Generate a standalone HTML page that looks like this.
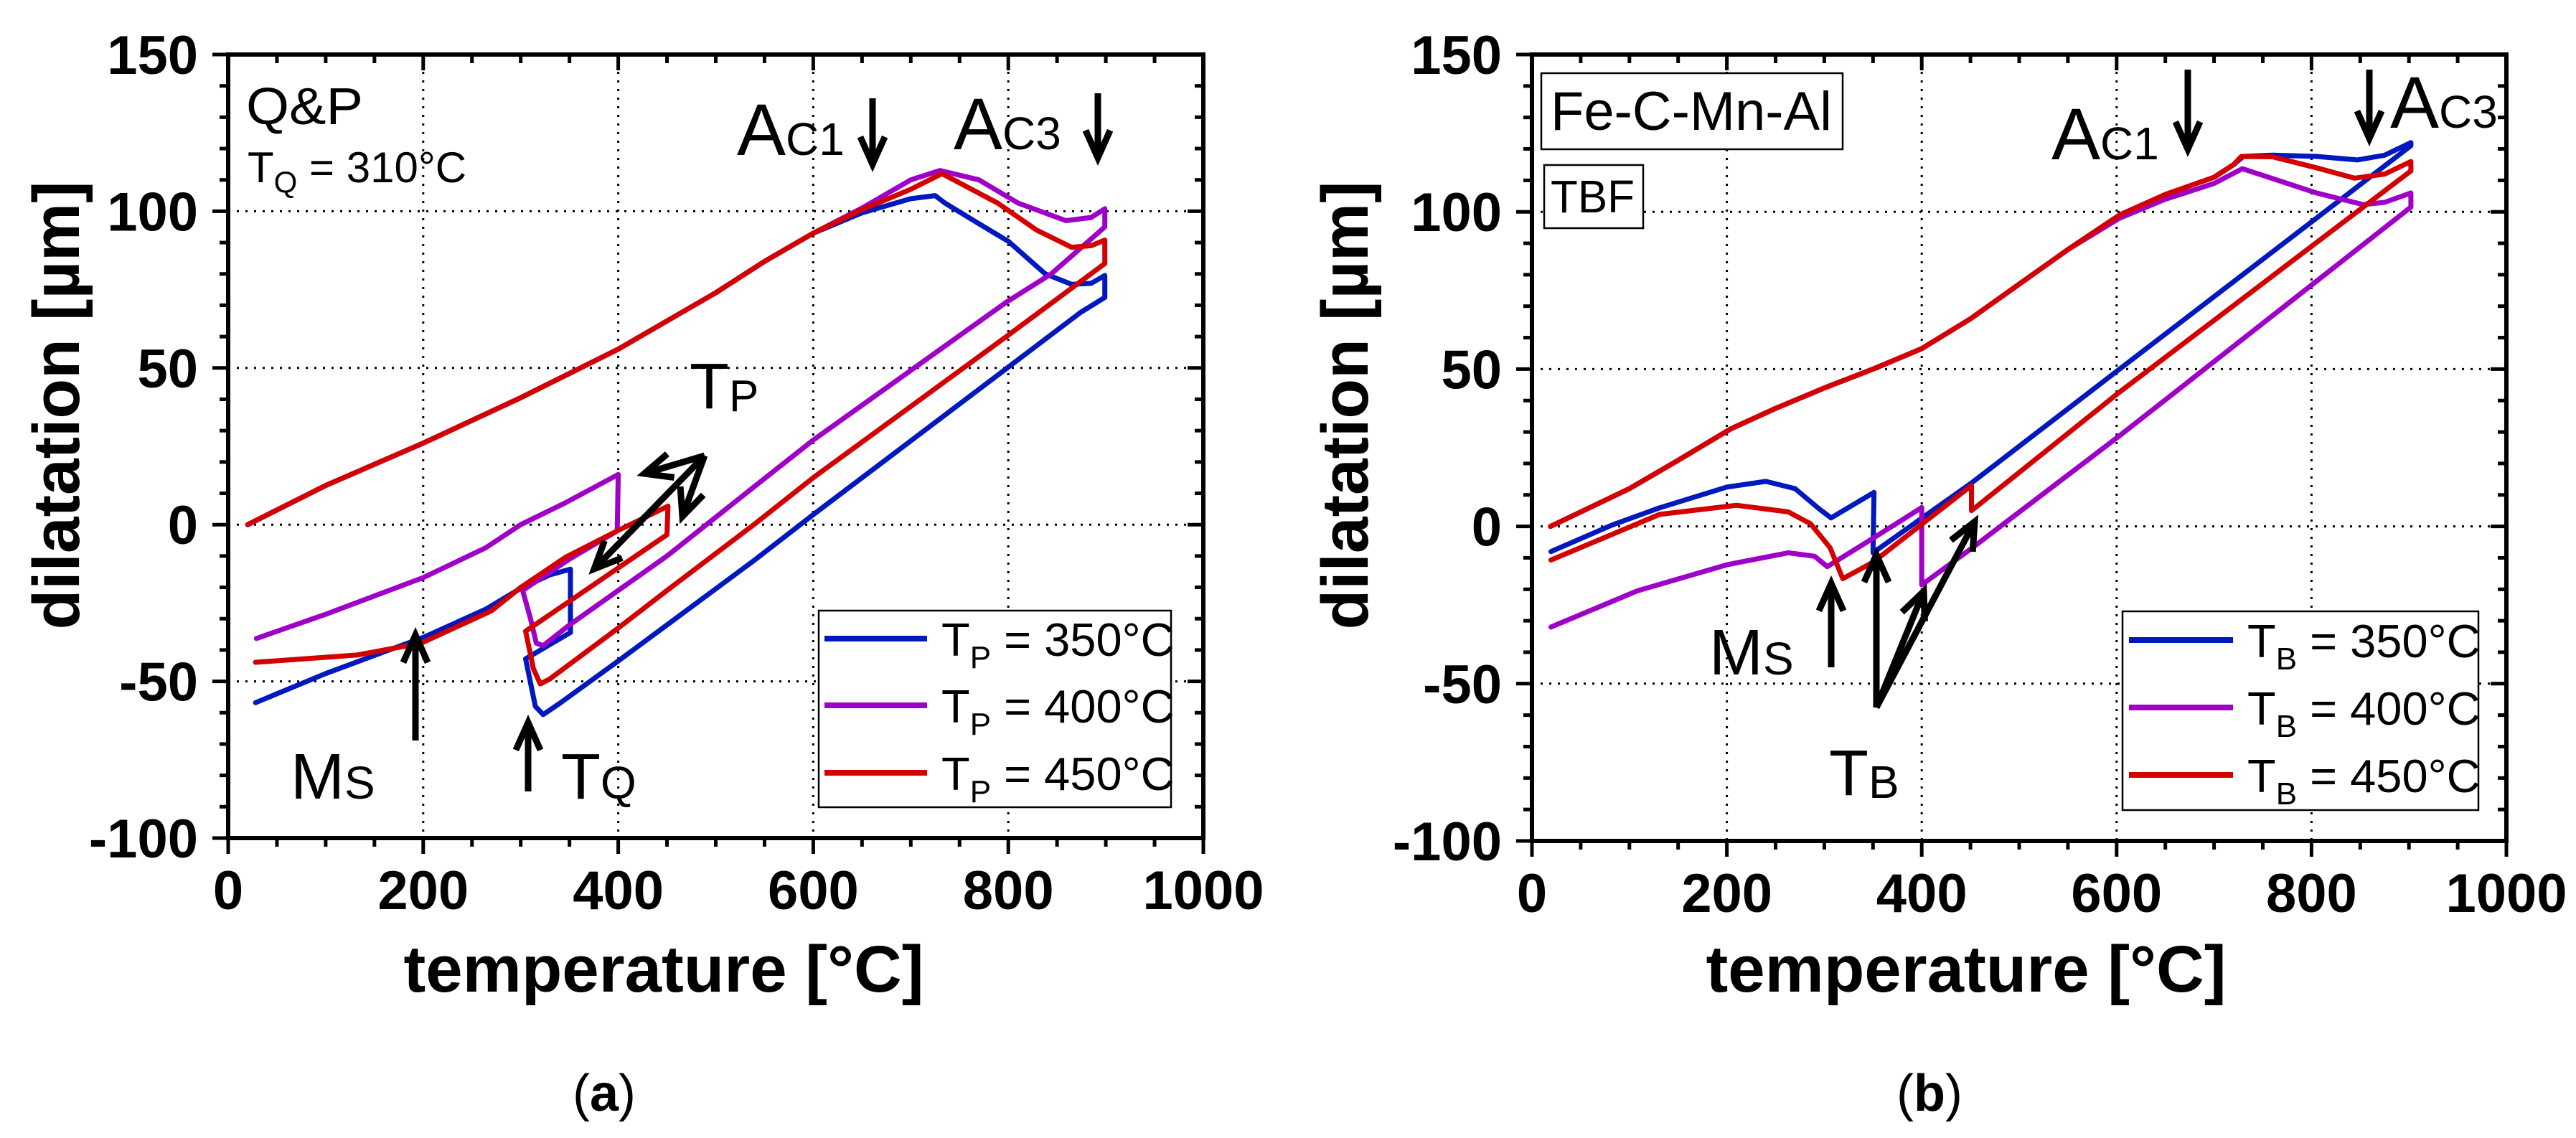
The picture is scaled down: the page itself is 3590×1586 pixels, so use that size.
<!DOCTYPE html>
<html><head><meta charset="utf-8"><title>Dilatation curves</title>
<style>
html,body{margin:0;padding:0;background:#fff;}
svg{display:block;}
text{font-family:"Liberation Sans",Arial,sans-serif;}
</style></head>
<body>
<svg id="fig" xmlns="http://www.w3.org/2000/svg" width="3590" height="1586" viewBox="0 0 3590 1586">
<rect width="3590" height="1586" fill="#fff"/>
</svg>
<script>
// ---------- shared axis data ----------
const xTicks = [0, 200, 400, 600, 800, 1000];
const yTicks = [150, 100, 50, 0, -50, -100];
const xMinorStep = 50;
const yMinorStep = 10;

// ---------- panel (a) data : Q&P ----------
const aBlueT = [20,100,200,300,400,500,550,600,650,700,725,735,770,800,838,865,885,899,899,874,798,600,539,450,400,340,323,315,305,351,351,330,300,264,200,165,100,28];
const aBlueV = [0,12.5,26,40.5,56,74,84,93,99.5,104,105,102.6,96,90.4,80,76.7,77,79.5,72.5,67.7,49.8,3.2,-11.5,-32,-43.5,-57,-60.6,-58,-42.8,-34.4,-14.2,-16,-20.3,-27,-36,-40,-47.5,-56.8];
const aPurpleT = [20,100,200,300,400,500,550,600,650,700,730,770,810,859,885,899,899,844,798,600,539,450,400,350,323,316,310,302,350,399,400,346,300,264,200,99,29];
const aPurpleV = [0,12.5,26,40.5,56,74,84,93,101,110,113,110,102.6,97,98,100.8,95,80,71,27,12,-10,-21,-32,-38.6,-37.8,-30,-21,-11,-2,16,7,0,-7.4,-16.9,-28.7,-36.3];
const aRedT = [20,100,200,300,400,500,550,600,650,700,732,789,829,865,885,899,899,798,600,539,514,450,400,330,320,313,305,450,451,399,346,300,270,198,132,28];
const aRedV = [0,12.5,26,40.5,56,74,84,93,100.5,107,112,102.6,94,88.5,89,90.8,83.3,60,15,0,-5.9,-21,-33,-49.2,-50.8,-46,-34,-3.2,5.9,-2,-10.4,-20,-27.5,-37.8,-41.6,-43.9];

// ---------- panel (b) data : TBF ----------
const bBlueT = [19,100,150,204,250,300,350,400,450,500,550,603,650,700,720,730,760,805,847,875,902,902,603,451,350,351,307,295,270,240,200,130,82,19.5];
const bBlueV = [0,12,21,31,37.5,44,50,56.5,66,77,88,99,105.5,111,115,117.6,118,117.6,116.5,118,122,121,50,13.8,-8.4,10.8,2.7,5.5,12,14.3,12.5,5.8,0.4,-8];
const bPurpleT = [19,100,150,204,250,300,350,400,450,500,550,603,650,700,729,805,853,875,902,902,603,451,400,400,349,303,290,263,200,108,19.5];
const bPurpleV = [0,12,21,31,37.5,44,50,56.5,66,77,88,98,104,109,113.7,106,102.3,103,106,101.5,28.8,-7,-18.6,6,-4,-12.8,-9.5,-8.4,-12.2,-20.5,-32];
const bRedT = [19,100,150,204,250,300,350,400,450,500,550,603,650,700,720,728,760,805,844,875,902,902,603,451,451,350,319,306,286,263,210,131,19.5];
const bRedV = [0,12,21,31,37.5,44,50,56.5,66,77,88,99,105.5,111,115,117.6,117.5,114,110.7,112,116,113,42.7,5,13,-11.4,-16.6,-6.8,0.8,4.6,6.7,3.8,-10.7];

const legendA = ["350\u00b0C", "400\u00b0C", "450\u00b0C"];
const legendB = ["350\u00b0C", "400\u00b0C", "450\u00b0C"];
const colors = ["#0019bf", "#9f00c8", "#d40000"];

const NS = "http://www.w3.org/2000/svg";
const svg = document.getElementById("fig");
function mk(tag, attrs, parent) {
  const e = document.createElementNS(NS, tag);
  for (const k in attrs) e.setAttribute(k, attrs[k]);
  (parent || svg).appendChild(e);
  return e;
}

function panel(P) {
  const g = mk("g", {});
  
  
  const X = t => P.x0 + (t - 0) * (P.x1 - P.x0) / 1000;
  const Y = v => P.y0 + (150 - v) * (P.y1 - P.y0) / 250;

  for (const t of xTicks) {
    if (t === 0 || t === 1000) continue;
    const l = mk("line", {x1: X(t), x2: X(t), y1: P.y0, y2: P.y1, stroke: "#000", "stroke-width": 3, "stroke-dasharray": "3 9"}, g);
    
    
  }
  for (const v of yTicks) {
    if (v === 150 || v === -100) continue;
    const l = mk("line", {x1: P.x0, x2: P.x1, y1: Y(v), y2: Y(v), stroke: "#000", "stroke-width": 3, "stroke-dasharray": "3 9"}, g);
    
    
  }

  const series = [[P.blueT, P.blueV], [P.purpleT, P.purpleV], [P.redT, P.redV]];
  const sNames = ['series-350', 'series-400', 'series-450'];
  series.forEach((s, i) => {
    let d = "";
    for (let k = 0; k < s[0].length; k++) d += (k ? "L" : "M") + X(s[0][k]).toFixed(1) + "," + Y(s[1][k]).toFixed(1);
    const p = mk("path", {d: d, fill: "none", stroke: colors[i], "stroke-width": 7, "stroke-linejoin": "round", "stroke-linecap": "round"}, g);
    
    
  });
  const fr = mk("rect", {x: P.x0, y: P.y0, width: P.x1 - P.x0, height: P.y1 - P.y0, fill: "none", stroke: "#000", "stroke-width": 6}, g);
  
  

  for (let t = 0; t <= 1000; t += xMinorStep) {
    const major = xTicks.includes(t);
    const len = major ? 22 : 12;
    const a = mk("line", {x1: X(t), x2: X(t), y1: P.y1, y2: P.y1 + len, stroke: "#000", "stroke-width": 5}, g);
    
    
    const b = mk("line", {x1: X(t), x2: X(t), y1: P.y0, y2: P.y0 + len, stroke: "#000", "stroke-width": 5}, g);
    
    
  }
  for (let v = -100; v <= 150; v += yMinorStep) {
    const major = yTicks.includes(v);
    const len = major ? 22 : 12;
    const a = mk("line", {x1: P.x0 - len, x2: P.x0, y1: Y(v), y2: Y(v), stroke: "#000", "stroke-width": 5}, g);
    
    
    const b = mk("line", {x1: P.x1 - len, x2: P.x1, y1: Y(v), y2: Y(v), stroke: "#000", "stroke-width": 5}, g);
    
    
  }
  for (const t of xTicks) {
    const e = mk("text", {x: X(t), y: P.y1 + 99, "text-anchor": "middle", "font-size": 76, "font-weight": "bold"}, g);
    e.textContent = String(t);
    
    
  }
  for (const v of yTicks) {
    const e = mk("text", {x: P.x0 - 42, y: Y(v) + 27, "text-anchor": "end", "font-size": 76, "font-weight": "bold"}, g);
    e.textContent = String(v);
    
    
  }
  const xt = mk("text", {x: P.xtx, y: 1382, "text-anchor": "middle", "font-size": 92, "font-weight": "bold", textLength: 725, lengthAdjust: "spacingAndGlyphs"}, g);
  xt.textContent = "temperature [\u00b0C]";
  
  
  const yt = mk("text", {x: 0, y: 0, transform: "translate(" + P.ytx + ",565) rotate(-90)", "text-anchor": "middle", "font-size": 92, "font-weight": "bold", textLength: 625, lengthAdjust: "spacingAndGlyphs"}, g);
  yt.textContent = "dilatation [\u00b5m]";
  
  
  const pl = mk("text", {x: P.labelX, y: 1548, "text-anchor": "middle", "font-size": 72, "font-family": "Liberation Serif, serif"}, g);
  pl.innerHTML = '(<tspan font-weight="bold">' + P.label + '</tspan>)';
  
  

  const L = P.legend;
  const box = mk("rect", {x: L.x, y: L.y, width: L.w, height: L.h, fill: "#fff", stroke: "#000", "stroke-width": 2.5}, g);
  
  
  P.legendLabels.forEach((lab, i) => {
    const cy = L.rows[i];
    const ln = mk("line", {x1: L.lx1, x2: L.lx2, y1: cy, y2: cy, stroke: colors[i], "stroke-width": 8}, g);
    
    
    const tx = mk("text", {x: L.tx, y: cy + 24, "font-size": 65}, g);
    tx.innerHTML = 'T<tspan font-size="44" dy="17">' + P.sub + '</tspan><tspan dy="-17"> = ' + lab + '</tspan>';
    
    
  });
  return {g, X, Y};
}

function arrow(parent, x1, y1, x2, y2, name) {
  const ang = Math.atan2(y2 - y1, x2 - x1);
  const hl = 42, hw = 0.42;
  const a1 = ang + Math.PI - hw, a2 = ang + Math.PI + hw;
  const d = "M" + x1 + "," + y1 + "L" + x2 + "," + y2 +
    "M" + (x2 + hl * Math.cos(a1)).toFixed(1) + "," + (y2 + hl * Math.sin(a1)).toFixed(1) + "L" + x2 + "," + y2 +
    "L" + (x2 + hl * Math.cos(a2)).toFixed(1) + "," + (y2 + hl * Math.sin(a2)).toFixed(1);
  const p = mk("path", {d: d, fill: "none", stroke: "#000", "stroke-width": 9, "stroke-linejoin": "miter", "stroke-linecap": "butt"}, parent);
  
  
}
function label(parent, x, y, big, small, fs, fs2, dy, name) {
  const t = mk("text", {x: x, y: y, "font-size": fs}, parent);
  t.innerHTML = big + '<tspan font-size="' + fs2 + '" dy="' + dy + '">' + small + '</tspan>';
  
  
}

// ---------- panel (a) ----------
const A = panel({name: "panel-a-qp", x0: 318, x1: 1677, y0: 76, y1: 1168, ytx: 110, xtx: 925, label: "a", labelX: 842,
  blueT: aBlueT, blueV: aBlueV, purpleT: aPurpleT, purpleV: aPurpleV, redT: aRedT, redV: aRedV,
  legendLabels: legendA, sub: "P",
  legend: {x: 1141, y: 851, w: 491, h: 274, lx1: 1149, lx2: 1292, tx: 1312, rows: [890, 983, 1077]}});
const ag = A.g;
let t;
t = mk("text", {x: 343, y: 173, "font-size": 72, textLength: 163, lengthAdjust: "spacingAndGlyphs"}, ag);
t.textContent = "Q&P";


t = mk("text", {x: 345, y: 254, "font-size": 60}, ag);
t.innerHTML = 'T<tspan font-size="42" dy="14">Q</tspan><tspan dy="-14"> = 310\u00b0C</tspan>';


label(ag, 1027, 216, "A", "C1", 102, 64, 0, "ac1-label");
arrow(ag, 1216, 137, 1216, 229, "ac1-arrow");
label(ag, 1329, 208, "A", "C3", 102, 64, 0, "ac3-label");
arrow(ag, 1530, 130, 1530, 220, "ac3-arrow");
label(ag, 961, 569, "T", "P", 90, 62, 4, "tp-label");
arrow(ag, 982, 635, 828, 793, "tp-arrow-350");
arrow(ag, 982, 635, 898, 660, "tp-arrow-400");
arrow(ag, 982, 635, 951, 720, "tp-arrow-450");
label(ag, 405, 1113, "M", "S", 90, 64, 0, "ms-label");
arrow(ag, 579, 1032, 579, 885, "ms-arrow");
label(ag, 782, 1113, "T", "Q", 90, 64, 0, "tq-label");
arrow(ag, 736, 1103, 736, 1007, "tq-arrow");

// ---------- panel (b) ----------
const B = panel({name: "panel-b-tbf", x0: 2135, x1: 3493, y0: 76, y1: 1172, ytx: 1906, xtx: 2740, label: "b", labelX: 2689,
  blueT: bBlueT, blueV: bBlueV, purpleT: bPurpleT, purpleV: bPurpleV, redT: bRedT, redV: bRedV,
  legendLabels: legendB, sub: "B",
  legend: {x: 2958, y: 852, w: 496, h: 277, lx1: 2967, lx2: 3112, tx: 3132, rows: [892, 986, 1080]}});
const bg = B.g;
let r = mk("rect", {x: 2148, y: 102, width: 420, height: 106, fill: "#fff", stroke: "#000", "stroke-width": 2.5}, bg);


t = mk("text", {x: 2161, y: 181, "font-size": 76, textLength: 392, lengthAdjust: "spacingAndGlyphs"}, bg);
t.textContent = "Fe-C-Mn-Al";


r = mk("rect", {x: 2152, y: 230, width: 138, height: 88, fill: "#fff", stroke: "#000", "stroke-width": 2.5}, bg);


t = mk("text", {x: 2161, y: 296, "font-size": 64, textLength: 117, lengthAdjust: "spacingAndGlyphs"}, bg);
t.textContent = "TBF";


label(bg, 2859, 222, "A", "C1", 102, 64, 0, "ac1-label");
arrow(bg, 3049, 97, 3049, 208, "ac1-arrow");
label(bg, 3331, 178, "A", "C3", 102, 64, 0, "ac3-label");
arrow(bg, 3302, 97, 3302, 193, "ac3-arrow");
label(bg, 2382, 940, "M", "S", 90, 64, 0, "ms-label");
arrow(bg, 2552, 930, 2552, 813, "ms-arrow");
label(bg, 2549, 1108, "T", "B", 90, 64, 4, "tb-label");
arrow(bg, 2615, 986, 2615, 773, "tb-arrow-350");
arrow(bg, 2615, 986, 2681, 824, "tb-arrow-400");
arrow(bg, 2615, 986, 2752, 727, "tb-arrow-450");
</script>
</body></html>
